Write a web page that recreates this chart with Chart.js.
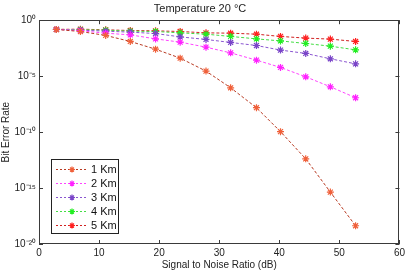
<!DOCTYPE html>
<html>
<head>
    <title>Temperature 20 °C</title>
    <style>
        body { margin: 0; background: #ffffff; }
        #wrap { width: 408px; height: 271px; }
    </style>
</head>
<body>
    <div id="wrap"><canvas id="ber-chart" width="408" height="271"></canvas></div>

    <script src="https://cdn.jsdelivr.net/npm/chart.js"></script>
    <script>
        // SNR (dB) at each measured point
        const snr = [2.9, 6.9, 11.1, 15.2, 19.4, 23.5, 27.8, 31.9, 36.2, 40.2, 44.4, 48.5, 52.7];

        // log10 of bit error rate, one array per distance
        const exp1km = [-0.83, -1.01, -1.36, -1.9, -2.59, -3.39, -4.55, -6.04, -7.82, -9.96, -12.39, -15.36, -18.37];
        const exp2km = [-0.82, -0.94, -1.16, -1.31, -1.67, -1.96, -2.41, -2.92, -3.57, -4.22, -5.06, -5.95, -6.93];
        const exp3km = [-0.82, -0.89, -0.98, -1.07, -1.19, -1.49, -1.72, -1.99, -2.26, -2.67, -2.97, -3.45, -3.9];
        const exp4km = [-0.82, -0.85, -0.89, -0.98, -1.01, -1.13, -1.25, -1.45, -1.67, -1.85, -2.08, -2.32, -2.65];
        const exp5km = [-0.82, -0.8, -0.86, -0.92, -0.95, -1.01, -1.13, -1.16, -1.25, -1.45, -1.6, -1.69, -1.9];

        const seriesNames = ['1 Km', '2 Km', '3 Km', '4 Km', '5 Km'];
        const xTicks = [0, 10, 20, 30, 40, 50, 60];
        const yTickExps = [0, -5, -10, -15, -20];
        const yTickLabels = ['10\u2070', '10\u207B\u2075', '10\u207B\u00B9\u2070', '10\u207B\u00B9\u2075', '10\u207B\u00B2\u2070'];

        const lineColors = ['#b83a22', '#ff44ff', '#8a55d0', '#44dd44', '#d02020'];
        const markColors = ['#f0603a', '#ff22ff', '#7a45c8', '#22ee22', '#ff2020'];

        function toPoints(exps) {
            return exps.map((e, i) => ({ x: snr[i], y: Math.pow(10, e) }));
        }

        const allExps = [exp1km, exp2km, exp3km, exp4km, exp5km];
        const datasets = allExps.map((exps, i) => ({
            label: seriesNames[i],
            data: toPoints(exps),
            borderColor: lineColors[i],
            borderWidth: 1,
            borderDash: [3, 2],
            pointStyle: 'star',
            pointRadius: 3.5,
            pointBorderWidth: 1.2,
            pointBorderColor: markColors[i],
            pointBackgroundColor: markColors[i],
            fill: false,
            tension: 0
        }));

        // box around the plot with inward tick marks, matlab style
        const frame = {
            id: 'frame',
            afterDatasetsDraw(chart) {
                const ctx = chart.ctx;
                const a = chart.chartArea;
                const xs = chart.scales.x, ys = chart.scales.y;
                ctx.save();
                ctx.strokeStyle = '#3a3a3a';
                ctx.lineWidth = 1;
                ctx.strokeRect(Math.round(a.left) + 0.5, Math.round(a.top) + 0.5,
                    Math.round(a.right - a.left) - 1, Math.round(a.bottom - a.top) - 1);
                ctx.beginPath();
                xTicks.forEach(v => {
                    const px = Math.round(xs.getPixelForValue(v)) + 0.5;
                    ctx.moveTo(px, a.bottom); ctx.lineTo(px, a.bottom - 4);
                    ctx.moveTo(px, a.top); ctx.lineTo(px, a.top + 4);
                });
                yTickExps.forEach(e => {
                    const py = Math.round(ys.getPixelForValue(Math.pow(10, e))) + 0.5;
                    ctx.moveTo(a.left, py); ctx.lineTo(a.left + 4, py);
                    ctx.moveTo(a.right, py); ctx.lineTo(a.right - 4, py);
                });
                ctx.stroke();
                ctx.restore();
            },
            afterDraw(chart) {
                // legend box in the lower left of the plot
                const ctx = chart.ctx;
                const bx = 51.5, by = 159.5, bw = 67, bh = 74;
                ctx.save();
                ctx.fillStyle = '#ffffff';
                ctx.fillRect(bx, by, bw, bh);
                ctx.strokeStyle = '#222222';
                ctx.lineWidth = 1;
                ctx.strokeRect(bx, by, bw, bh);
                ctx.font = '11px "Liberation Sans", Arial, sans-serif';
                ctx.textBaseline = 'middle';
                chart.data.datasets.forEach((ds, i) => {
                    const cy = 169.5 + i * 14;
                    ctx.strokeStyle = ds.borderColor;
                    ctx.setLineDash([2, 2]);
                    ctx.beginPath();
                    ctx.moveTo(56, cy); ctx.lineTo(88, cy);
                    ctx.stroke();
                    ctx.setLineDash([]);
                    ctx.strokeStyle = ds.pointBorderColor;
                    ctx.lineWidth = 1.2;
                    ctx.beginPath();
                    ctx.moveTo(72, cy - 3); ctx.lineTo(72, cy + 3);
                    ctx.moveTo(69, cy); ctx.lineTo(75, cy);
                    ctx.moveTo(70, cy - 2); ctx.lineTo(74, cy + 2);
                    ctx.moveTo(70, cy + 2); ctx.lineTo(74, cy - 2);
                    ctx.stroke();
                    ctx.lineWidth = 1;
                    ctx.fillStyle = '#111111';
                    ctx.fillText(ds.label, 91, cy + 0.5);
                });
                ctx.restore();
            }
        };

        new Chart(document.getElementById('ber-chart'), {
            type: 'line',
            data: { datasets: datasets },
            options: {
                responsive: false,
                animation: false,
                layout: { padding: { left: 0, right: 8, top: 0, bottom: 0 } },
                plugins: {
                    legend: { display: false },
                    tooltip: { enabled: false },
                    title: {
                        display: true,
                        text: 'Temperature 20 °C',
                        color: '#222222',
                        font: { family: '"Liberation Sans", Arial, sans-serif', size: 11, weight: 'normal' },
                        padding: { top: 2, bottom: 5 }
                    }
                },
                scales: {
                    x: {
                        type: 'linear',
                        min: 0,
                        max: 60,
                        afterBuildTicks: s => { s.ticks = xTicks.map(v => ({ value: v })); },
                        afterFit: s => { s.height = 27; },
                        grid: { display: false, drawTicks: false },
                        border: { display: false },
                        ticks: {
                            color: '#222222',
                            padding: 3,
                            maxRotation: 0,
                            font: { family: '"Liberation Sans", Arial, sans-serif', size: 10 }
                        },
                        title: {
                            display: true,
                            text: 'Signal to Noise Ratio (dB)',
                            color: '#222222',
                            font: { family: '"Liberation Sans", Arial, sans-serif', size: 10 },
                            padding: { top: 0, bottom: 0 }
                        }
                    },
                    y: {
                        type: 'logarithmic',
                        min: 1e-20,
                        max: 1,
                        afterBuildTicks: s => { s.ticks = yTickExps.map(e => ({ value: Math.pow(10, e) })); },
                        afterFit: s => { s.width = 39; },
                        grid: { display: false, drawTicks: false },
                        border: { display: false },
                        ticks: {
                            color: '#222222',
                            padding: 3,
                            font: { family: '"Liberation Sans", Arial, sans-serif', size: 10 },
                            callback: (v, i) => yTickLabels[i]
                        },
                        title: {
                            display: true,
                            text: 'Bit Error Rate',
                            color: '#222222',
                            font: { family: '"Liberation Sans", Arial, sans-serif', size: 10 },
                            padding: { top: 0, bottom: 0 }
                        }
                    }
                }
            },
            plugins: [frame]
        });
    </script>
</body>
</html>
